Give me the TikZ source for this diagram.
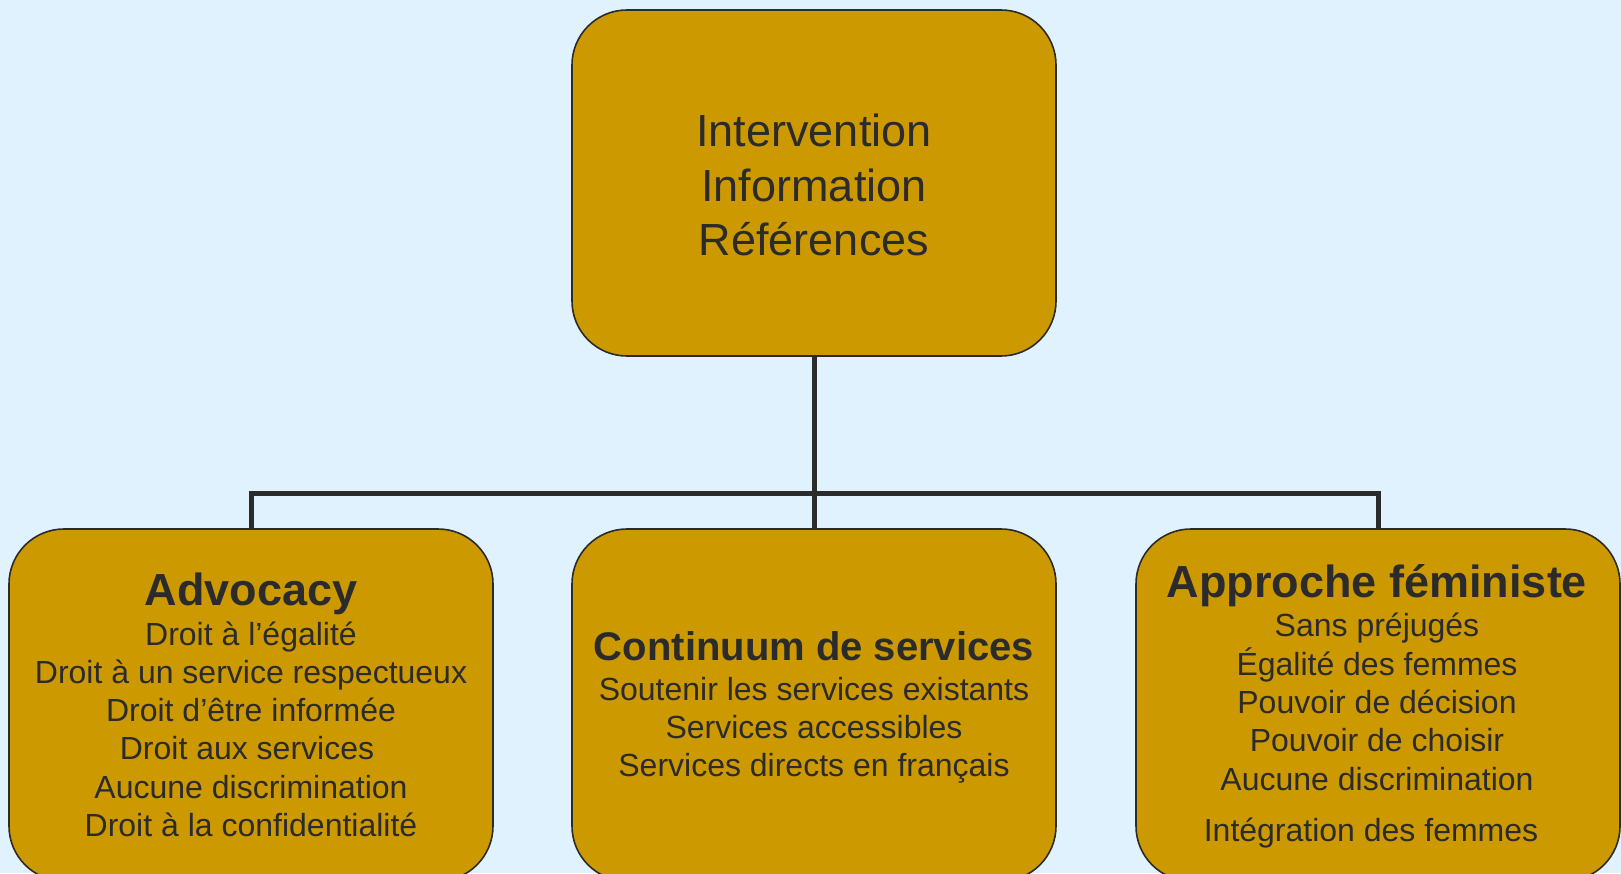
\documentclass[tikz,border=0pt]{standalone}
\usepackage{fontspec}
\setmainfont{Liberation Sans}
\definecolor{bg}{HTML}{E0F2FE}
\definecolor{gold}{HTML}{CC9900}
\definecolor{ink}{HTML}{2B2B2B}
\tikzset{
  box/.style={draw=ink, line width=1.6pt, fill=gold, rounded corners=55pt,
    minimum width=484pt, inner sep=0pt},
  conn/.style={draw=ink, line width=5pt},
  txt/.style={anchor=base, inner sep=0pt, text=ink, font=\fontsize{32}{36}\selectfont},
  toptxt/.style={txt, font=\fontsize{45}{50}\selectfont},
  ttl/.style={txt, font=\fontsize{45}{50}\selectfont\bfseries},
}
\begin{document}
\begin{tikzpicture}[x=1pt,y=-1pt]
\useasboundingbox (0,0) rectangle (1621,873);
\fill[bg] (0,0) rectangle (1621,873);
% boxes
\node[box, minimum height=346pt] (top) at (814,183) {};
\node[box, minimum height=352pt] (L) at (251,705) {};
\node[box, minimum height=352pt] (C) at (814,705) {};
\node[box, minimum height=352pt] (R) at (1378,705) {};
% connectors
\coordinate (hub) at (814,493);
\draw[conn] (top.south) -- (C.north);
\draw[conn] (L.north) |- (hub) -| (R.north);
% top text
\node[toptxt] at (814,146.7) {Intervention};
\node[toptxt] at (814,201) {Information};
\node[toptxt] at (814,255) {Références};
% left
\node[ttl] at (251,605) {Advocacy};
\node[txt] at (251,645) {Droit à l’égalité};
\node[txt] at (251,683.3) {Droit à un service respectueux};
\node[txt] at (251,721.7) {Droit d’être informée};
\node[txt] at (247,759.3) {Droit aux services};
\node[txt] at (251,798.3) {Aucune discrimination};
\node[txt] at (251,836.7) {Droit à la confidentialité};
% center
\node[ttl, font=\fontsize{40}{46}\selectfont\bfseries] at (814,660) {Continuum de services};
\node[txt] at (814,700) {Soutenir les services existants};
\node[txt] at (814,738.3) {Services accessibles};
\node[txt] at (814,776) {Services directs en français};
% right
\node[ttl] at (1377,597) {Approche féministe};
\node[txt] at (1377,636.7) {Sans préjugés};
\node[txt] at (1377,675) {Égalité des femmes};
\node[txt] at (1377,713.3) {Pouvoir de décision};
\node[txt] at (1377,751.7) {Pouvoir de choisir};
\node[txt] at (1377,790) {Aucune discrimination};
\node[txt] at (1371,841.7) {Intégration des femmes};
\end{tikzpicture}
\end{document}
